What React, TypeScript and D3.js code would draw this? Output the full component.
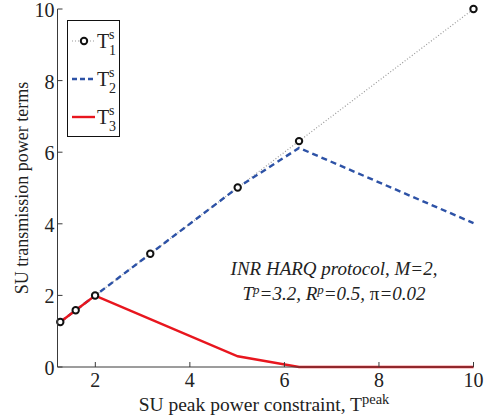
import React from 'react';
import * as d3 from 'd3';

// peak power values (10^0.1 ... 10^1)
const tPeak = [1.2589, 1.5849, 1.9953, 3.1623, 5.0119, 6.3096, 10];
const t1 = [1.2589, 1.5849, 1.9953, 3.1623, 5.0119, 6.3096, 10];
const t2 = [1.2589, 1.5849, 1.9953, 3.1623, 5.0119, 6.12, 4.02];
const t3 = [1.2589, 1.5849, 1.9953, 1.34, 0.3, 0, 0];
const xTicks = [2, 4, 6, 8, 10];
const yTicks = [0, 2, 4, 6, 8, 10];

const W = 491;
const H = 419;
const FF = 'Liberation Serif';

function App() {
  const x = d3.scaleLinear().domain([1.2, 10]).range([57.5, 473.5]);
  const y = d3.scaleLinear().domain([0, 10]).range([367, 9]);

  const line = d3
    .line<number>()
    .x((d, i) => x(tPeak[i]))
    .y(d => y(d));

  const axisColor = '#3a3a3a';

  return (
    <svg width={W} height={H} style={{ position: 'absolute', left: 0, top: 0, background: '#fff' }}>
      {/* series */}
      <path d={line(t1) || ''} fill="none" stroke="#9a9a9a" strokeWidth={1.2} strokeDasharray="1,2" />
      <path d={line(t2) || ''} fill="none" stroke="#2d52a6" strokeWidth={2.4} strokeDasharray="6,4" />
      <path d={line(t3) || ''} fill="none" stroke="#e8161e" strokeWidth={2.4} />
      {t1.map((d, i) => (
        <circle key={i} cx={x(tPeak[i])} cy={y(d)} r={3.2} fill="#fff" stroke="#111" strokeWidth={2} />
      ))}

      {/* axes */}
      <line x1={x(1.2)} x2={x(10)} y1={y(0)} y2={y(0)} stroke={axisColor} strokeWidth={1} />
      <line x1={x(1.2)} x2={x(1.2)} y1={y(0)} y2={y(10)} stroke={axisColor} strokeWidth={1} />
      {xTicks.map(t => (
        <g key={'x' + t}>
          <line x1={x(t)} x2={x(t)} y1={y(0)} y2={y(0) - 5} stroke={axisColor} />
          <text x={x(t)} y={y(0) + 20} textAnchor="middle" fontSize={20} fill="#222" fontFamily={FF}>{t}</text>
        </g>
      ))}
      {yTicks.map(t => (
        <g key={'y' + t}>
          <line x1={x(1.2)} x2={x(1.2) + 5} y1={y(t)} y2={y(t)} stroke={axisColor} />
          <text x={x(1.2) - 3} y={y(t) + 8} textAnchor="end" fontSize={20} fill="#222" fontFamily={FF}>{t}</text>
        </g>
      ))}

      {/* axis labels */}
      <text x={264} y={411} textAnchor="middle" fontSize={19.5} fill="#222" fontFamily={FF}>
        SU peak power constraint, T<tspan dy={-7} fontSize={14.5}>peak</tspan>
      </text>
      <text
        transform={`translate(28,${(y(0) + y(10)) / 2}) rotate(-90)`}
        textAnchor="middle"
        fontSize={18}
        fill="#222"
        fontFamily={FF}
      >
        SU transmission power terms
      </text>

      {/* annotation */}
      <text x={334} y={275} fontStyle="italic" fontSize={19} fill="#222" textAnchor="middle" fontFamily={FF}>
        INR HARQ protocol, M=2,
      </text>
      <text x={334} y={300} fontStyle="italic" fontSize={19} fill="#222" textAnchor="middle" fontFamily={FF}>
        T<tspan dy={-6} fontSize={13}>p</tspan>
        <tspan dy={6}>=3.2, R</tspan>
        <tspan dy={-6} fontSize={13}>p</tspan>
        <tspan dy={6}>=0.5, </tspan>
        <tspan fontStyle="normal">π</tspan>
        <tspan>=0.02</tspan>
      </text>

      {/* legend */}
      <rect x={67.5} y={20.5} width={52} height={116} fill="#fff" stroke="#111" strokeWidth={1} />
      {[
        { k: '1', stroke: '#9a9a9a', w: 1.2, dash: '1,2', marker: true },
        { k: '2', stroke: '#2d52a6', w: 2.4, dash: '5,3', marker: false },
        { k: '3', stroke: '#e8161e', w: 2.4, dash: undefined, marker: false },
      ].map((e, i) => {
        const ly = 41 + i * 38;
        return (
          <g key={e.k}>
            <line x1={72} x2={95} y1={ly} y2={ly} stroke={e.stroke} strokeWidth={e.w} strokeDasharray={e.dash} />
            {e.marker && <circle cx={84} cy={ly} r={3.2} fill="#fff" stroke="#111" strokeWidth={2} />}
            <text x={97} y={ly + 7} fontSize={20} fill="#222" fontFamily={FF}>
              T
              <tspan x={109} y={ly - 2} fontSize={14}>s</tspan>
              <tspan x={109} y={ly + 14} fontSize={14}>{e.k}</tspan>
            </text>
          </g>
        );
      })}
    </svg>
  );
}

export default App;
